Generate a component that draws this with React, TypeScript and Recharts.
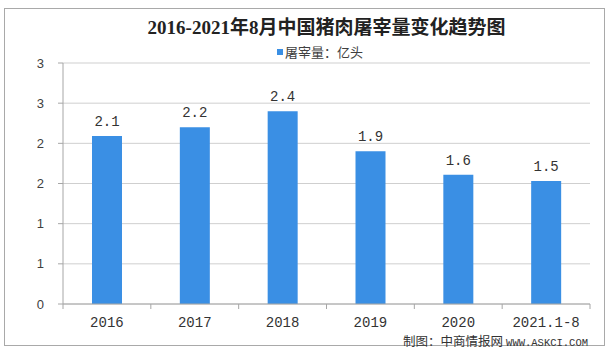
import React from 'react';
import { BarChart, Bar, XAxis, YAxis, CartesianGrid, LabelList } from 'recharts';

const categories = ['2016', '2017', '2018', '2019', '2020', '2021.1-8'];
const slaughterValues = [2.09, 2.2, 2.4, 1.9, 1.61, 1.53];
const yTicks = [0, 0.5, 1, 1.5, 2, 2.5, 3];
const titleText = '2016-2021年8月中国猪肉屠宰量变化趋势图';
const seriesName = '屠宰量：亿头';
const creditCn = '制图：中商情报网';
const creditUrl = 'WWW.ASKCI.COM';

const data = categories.map((c, i) => ({ name: c, value: slaughterValues[i] }));

const BAR_COLOR = '#3a8fe4';
const AXIS_COLOR = '#a6a6a6';
const MONO = '"Liberation Mono", "Noto Sans CJK SC", monospace';

const XTick = (props: any) => {
  const { x, y, payload, index, visibleTicksCount } = props;
  const off = payload && typeof payload.offset === 'number' ? payload.offset : 0;
  const isLast = index === (visibleTicksCount ?? categories.length) - 1;
  return (
    <g>
      <line x1={x - off} x2={x - off} y1={y} y2={y + 5} stroke={AXIS_COLOR} />
      {isLast && <line x1={x + off} x2={x + off} y1={y} y2={y + 5} stroke={AXIS_COLOR} />}
      <text x={x} y={y + 23} textAnchor="middle" fill="#333" fontSize={14} fontFamily={MONO}>
        {payload.value}
      </text>
    </g>
  );
};

export default function App() {
  return (
    <div
      style={{
        position: 'absolute',
        left: 0,
        top: 0,
        width: 610,
        height: 353,
        background: '#fff',
        fontFamily: '"Noto Sans CJK SC", sans-serif',
      }}
    >
      <div
        style={{
          position: 'absolute',
          left: 4,
          top: 8,
          width: 601,
          height: 338,
          border: '1px solid #a9a9a9',
          boxSizing: 'border-box',
        }}
      />
      <BarChart
        width={610}
        height={353}
        data={data}
        margin={{ top: 63, right: 20, bottom: 19, left: 23 }}
        style={{ position: 'absolute', left: 0, top: 0 }}
      >
        <CartesianGrid vertical={false} stroke="#cfcfcf" />
        <XAxis
          dataKey="name"
          height={30}
          axisLine={{ stroke: AXIS_COLOR }}
          tickLine={false}
          tickSize={0}
          tickMargin={0}
          interval={0}
          tick={<XTick />}
        />
        <YAxis
          width={40}
          domain={[0, 3]}
          ticks={yTicks}
          interval={0}
          tickFormatter={(v: number) => String(Math.round(v))}
          axisLine={{ stroke: AXIS_COLOR }}
          tickLine={{ stroke: AXIS_COLOR }}
          tickSize={5}
          tickMargin={14}
          tick={{ fill: '#404040', fontSize: 13, fontFamily: '"Liberation Sans", sans-serif' }}
        />
        <Bar dataKey="value" name={seriesName} fill={BAR_COLOR} barSize={30} isAnimationActive={false}>
          <LabelList
            dataKey="value"
            position="top"
            offset={10}
            formatter={(v: number) => v.toFixed(1)}
            style={{ fill: '#333', fontSize: 14, fontFamily: MONO }}
          />
        </Bar>
      </BarChart>
      <div
        style={{
          position: 'absolute',
          left: 63,
          top: 17,
          width: 527,
          textAlign: 'center',
          fontSize: 19,
          fontWeight: 'bold',
          lineHeight: '22px',
          color: '#222',
          fontFamily: '"Liberation Serif", "Noto Sans CJK SC", serif',
        }}
      >
        {titleText}
      </div>
      <div
        style={{
          position: 'absolute',
          left: 50,
          top: 44,
          width: 540,
          textAlign: 'center',
          fontSize: 13,
          lineHeight: '16px',
          color: '#404040',
        }}
      >
        <span
          style={{
            display: 'inline-block',
            width: 6,
            height: 6,
            background: BAR_COLOR,
            marginRight: 2,
            verticalAlign: 'middle',
            position: 'relative',
            top: -1,
          }}
        />
        {seriesName}
      </div>
      <div
        style={{
          position: 'absolute',
          right: 22,
          top: 334,
          fontSize: 12.5,
          lineHeight: '13px',
          color: '#333',
          whiteSpace: 'nowrap',
        }}
      >
        {creditCn}
        <span style={{ fontFamily: MONO, fontSize: 10.5, marginLeft: 3 }}>{creditUrl}</span>
      </div>
    </div>
  );
}
